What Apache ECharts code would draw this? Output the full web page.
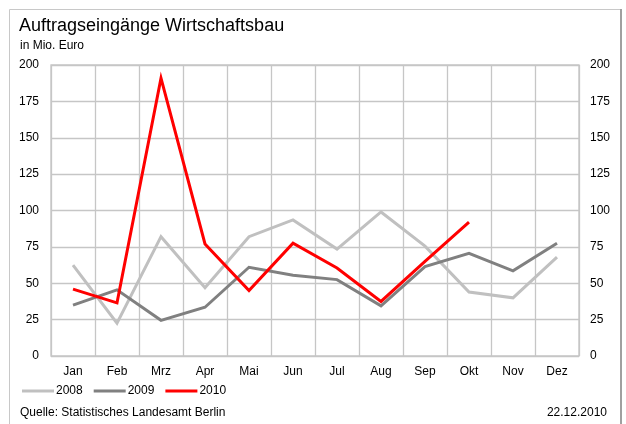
<!DOCTYPE html>
<html>
<head>
<meta charset="utf-8">
<script src="https://cdn.jsdelivr.net/npm/echarts@6/dist/echarts.min.js"></script>
<style>
  html, body { margin: 0; padding: 0; background: #fff; }
  #chart { width: 626px; height: 424px; }
</style>
</head>
<body>
<div id="chart"></div>
<script>
// Monatliche Auftragseingänge im Wirtschaftsbau (Mio. Euro)
const months = ['Jan', 'Feb', 'Mrz', 'Apr', 'Mai', 'Jun', 'Jul', 'Aug', 'Sep', 'Okt', 'Nov', 'Dez'];
const values2008 = [62.5, 22.5, 82, 47, 82, 93.5, 73.5, 99, 75.5, 44, 40, 68];
const values2009 = [35, 45.5, 24.5, 33.5, 61, 55.5, 52.5, 34.5, 61.5, 70.5, 58.5, 77.5];
const values2010 = [46, 36.5, 191, 77, 45, 77.5, 60.5, 37.5, 65, 92];
const seriesNames = ['2008', '2009', '2010'];
const seriesColors = ['#c0c0c0', '#808080', '#ff0000'];
const yTicks = { min: 0, max: 200, step: 25 };

const font = "'Liberation Sans', Arial, sans-serif";
const chart = echarts.init(document.getElementById('chart'), null, { renderer: 'canvas' });

const valueAxis = (position) => ({
  type: 'value',
  position: position,
  min: yTicks.min,
  max: yTicks.max,
  interval: yTicks.step,
  axisLine: { show: false },
  axisTick: { show: false },
  splitLine: { show: position === 'left', lineStyle: { color: '#c6c6c6', width: 1.3 } },
  axisLabel: {
    color: '#000',
    fontFamily: font,
    fontSize: 12,
    margin: position === 'left' ? 12 : 11
  }
});

chart.setOption({
  animation: false,
  backgroundColor: '#fff',
  title: [
    {
      text: 'Auftragseingänge Wirtschaftsbau',
      left: 14, top: 12,
      textStyle: { fontFamily: font, fontSize: 18, fontWeight: 'normal', color: '#000' }
    },
    {
      text: 'in Mio. Euro',
      left: 15, top: 35,
      textStyle: { fontFamily: font, fontSize: 12, fontWeight: 'normal', color: '#000' }
    },
    {
      text: 'Quelle: Statistisches Landesamt Berlin',
      left: 15, top: 402,
      textStyle: { fontFamily: font, fontSize: 12, fontWeight: 'normal', color: '#000' }
    },
    {
      text: '22.12.2010',
      right: 14, top: 402,
      textStyle: { fontFamily: font, fontSize: 12, fontWeight: 'normal', color: '#000' }
    }
  ],
  legend: {
    left: 17, top: 380,
    icon: 'rect',
    itemWidth: 32, itemHeight: 3,
    itemGap: 11,
    textStyle: { fontFamily: font, fontSize: 12, color: '#000', padding: [0, 0, 0, -3] },
    data: seriesNames
  },
  grid: { left: 51, top: 65, width: 528, height: 291, show: true, borderColor: '#c6c6c6', borderWidth: 1.3 },
  xAxis: {
    type: 'category',
    data: months,
    boundaryGap: true,
    axisLine: { show: false },
    axisTick: { show: false },
    splitLine: { show: true, interval: 0, lineStyle: { color: '#c6c6c6', width: 1.3 } },
    axisLabel: { color: '#000', fontFamily: font, fontSize: 12, margin: 10, interval: 0 }
  },
  yAxis: [valueAxis('left'), valueAxis('right')],
  series: [values2008, values2009, values2010].map((vals, i) => ({
    name: seriesNames[i],
    type: 'line',
    data: vals,
    yAxisIndex: 0,
    symbol: 'none',
    smooth: false,
    z: 2 + i,
    itemStyle: { color: seriesColors[i] },
    lineStyle: { color: seriesColors[i], width: 3, join: 'miter' }
  })),
  graphic: [
    {
      type: 'rect',
      shape: { x: 9.5, y: 9.5, width: 611, height: 430 },
      style: { fill: 'none', stroke: '#c8c8c8', lineWidth: 1 },
      silent: true
    },
    {
      type: 'line',
      shape: { x1: 621, y1: 9, x2: 621, y2: 424 },
      style: { stroke: '#a0a0a0', lineWidth: 2 },
      silent: true
    }
  ]
});
</script>
</body>
</html>
